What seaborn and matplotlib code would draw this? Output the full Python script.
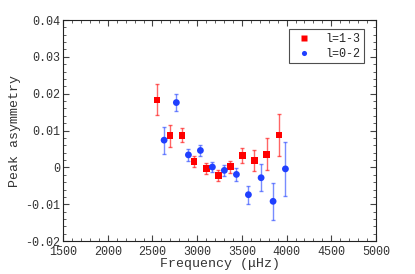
import matplotlib
matplotlib.use("Agg")
import matplotlib.pyplot as plt
from matplotlib.ticker import MultipleLocator
import seaborn as sns
import pandas as pd
import numpy as np

freq_13 = [2551, 2697, 2831, 2965, 3103, 3237, 3372, 3506, 3640, 3778, 3916]
asym_13 = [0.0183, 0.0086, 0.0087, 0.0016, -0.0002, -0.0023, 0.0002, 0.0032, 0.0019, 0.0036, 0.0088]
err_13 = [0.0042, 0.0030, 0.0019, 0.0014, 0.0015, 0.0015, 0.0016, 0.0020, 0.0029, 0.0044, 0.0057]

freq_02 = [2630, 2767, 2902, 3036, 3170, 3304, 3439, 3573, 3715, 3849, 3987]
asym_02 = [0.0074, 0.0176, 0.0034, 0.0046, 0.0001, -0.0008, -0.0019, -0.0074, -0.0028, -0.0092, -0.0004]
err_02 = [0.0037, 0.0024, 0.0016, 0.0014, 0.0014, 0.0015, 0.0018, 0.0024, 0.0036, 0.0050, 0.0074]

labels = ["l=1-3", "l=0-2"]
ytick_vals = [-0.02, -0.01, 0, 0.01, 0.02, 0.03, 0.04]
ytick_labels = ["-0.02", "-0.01", "0", "0.01", "0.02", "0.03", "0.04"]

df = pd.concat([
    pd.DataFrame({"freq": freq_13, "asym": asym_13, "err": err_13, "mode": labels[0]}),
    pd.DataFrame({"freq": freq_02, "asym": asym_02, "err": err_02, "mode": labels[1]}),
])

sns.set_style("ticks")
plt.rcParams['font.family'] = ['Liberation Mono', 'DejaVu Sans Mono']

fig = plt.figure(figsize=(4.15, 2.74), dpi=100)
ax = fig.add_axes([0.152, 0.120, 0.754, 0.807])

colors = {labels[0]: "#ff0000", labels[1]: "#1f3fff"}
markers = {labels[0]: "s", labels[1]: "o"}

for lab in labels:
    sub = df[df["mode"] == lab]
    ax.errorbar(sub["freq"], sub["asym"], yerr=sub["err"], fmt="none",
                ecolor=colors[lab], alpha=0.6, elinewidth=1.0, capsize=1.5, capthick=1.0, zorder=2)

sns.scatterplot(data=df, x="freq", y="asym", hue="mode", style="mode",
                palette=colors, markers=markers, s=24, edgecolor="none",
                ax=ax, zorder=3, legend=True)

ax.set_xlim(1500, 5000)
ax.set_ylim(-0.02, 0.04)
ax.xaxis.set_major_locator(MultipleLocator(500))
ax.xaxis.set_minor_locator(MultipleLocator(100))
ax.yaxis.set_minor_locator(MultipleLocator(0.002))
ax.set_yticks(ytick_vals)
ax.set_yticklabels(ytick_labels)
ax.tick_params(which="both", direction="in", top=True, right=True, labelsize=8.5,
               colors="#444444", labelcolor="#333333")
ax.tick_params(which="major", length=4, width=0.8)
ax.tick_params(which="minor", length=2, width=0.6)
ax.tick_params(axis="x", pad=3.5)
ax.tick_params(axis="y", pad=2)
for sp in ax.spines.values():
    sp.set_linewidth(0.8)
    sp.set_color("#222222")

ax.set_xlabel("Frequency (μHz)", fontsize=9.5, color="#333333", labelpad=0)
ax.set_ylabel("Peak asymmetry", fontsize=9.5, color="#333333", labelpad=3)

leg = ax.legend(loc="upper right", fontsize=8.5, frameon=True, fancybox=False,
                edgecolor="#222222", handletextpad=0.8, borderpad=0.3,
                labelspacing=0.25, markerscale=0.75, bbox_to_anchor=(0.98, 0.985))
leg.get_frame().set_linewidth(0.8)

fig.savefig("out.png", dpi=100)
